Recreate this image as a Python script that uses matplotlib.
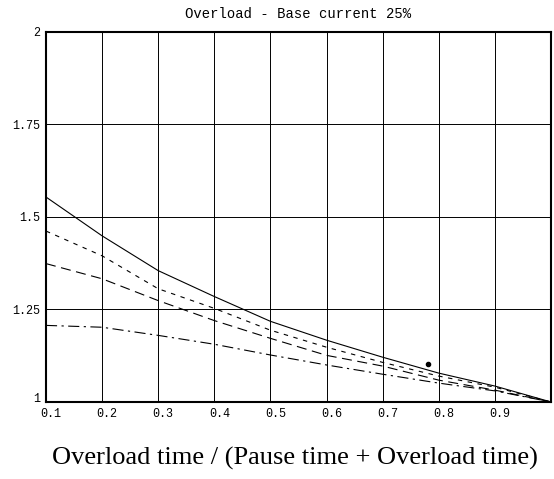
import matplotlib
matplotlib.use("Agg")
import matplotlib.pyplot as plt
import matplotlib.transforms as mtransforms

# duty cycle (overload time / total time)
duty = [0.1, 0.2, 0.3, 0.4, 0.5, 0.6, 0.7, 0.8, 0.9, 1.0]

# overload factor curves
solid = [1.554, 1.449, 1.355, 1.285, 1.218, 1.167, 1.121, 1.078, 1.043, 1.0]
short_dash = [1.462, 1.395, 1.306, 1.253, 1.194, 1.148, 1.107, 1.070, 1.040, 1.0]
long_dash = [1.374, 1.333, 1.274, 1.220, 1.172, 1.126, 1.097, 1.059, 1.032, 1.0]
dash_dot = [1.207, 1.202, 1.180, 1.156, 1.127, 1.100, 1.075, 1.051, 1.030, 1.0]

x_ticks = [0.1, 0.2, 0.3, 0.4, 0.5, 0.6, 0.7, 0.8, 0.9]
x_ticklabels = ['0.1', '0.2', '0.3', '0.4', '0.5', '0.6', '0.7', '0.8', '0.9']
y_ticks = [1, 1.25, 1.5, 1.75, 2]
y_ticklabels = ['1', '1.25', '1.5', '1.75', '2']

# stray dot in the scan
speck_x = [0.78]
speck_y = [1.103]

fig = plt.figure(figsize=(5.54, 4.79), dpi=100)
ax = fig.add_axes([0.083, 0.1608, 0.9116, 0.7724])

ax.plot(duty, solid, color='black', lw=0.8, ls='-')
ax.plot(duty, short_dash, color='black', lw=0.8, ls=(0, (4, 5)))
ax.plot(duty, long_dash, color='black', lw=0.8, ls=(0, (9, 5)))
ax.plot(duty, dash_dot, color='black', lw=0.8, ls=(0, (10, 4, 2, 4)))
ax.plot(speck_x, speck_y, 'o', color='black', ms=3)

ax.set_xlim(0.1, 1.0)
ax.set_ylim(1, 2)
ax.set_xticks(x_ticks)
ax.set_yticks(y_ticks)
ax.set_xticklabels(x_ticklabels, family='Liberation Mono', fontsize=8.5)
ax.set_yticklabels(y_ticklabels, family='Liberation Mono', fontsize=8.5)
ax.tick_params(length=0, pad=4)

# nudge x labels to the right a bit, like the scan
offset = mtransforms.ScaledTranslation(5 / 100, 0, fig.dpi_scale_trans)
for lbl in ax.get_xticklabels():
    lbl.set_transform(lbl.get_transform() + offset)
ylabs = ax.get_yticklabels()
ylabs[0].set_transform(ylabs[0].get_transform() +
                       mtransforms.ScaledTranslation(0, 4 / 100, fig.dpi_scale_trans))

ax.grid(True, color='black', lw=0.7)
for s in ax.spines.values():
    s.set_linewidth(1.5)

ax.set_title('Overload - Base current 25%', family='Liberation Mono', fontsize=10, pad=10)
fig.text(0.533, 0.03, 'Overload time / (Pause time + Overload time)',
         family='Liberation Serif', fontsize=19, ha='center')

fig.savefig('out.png', dpi=100)
